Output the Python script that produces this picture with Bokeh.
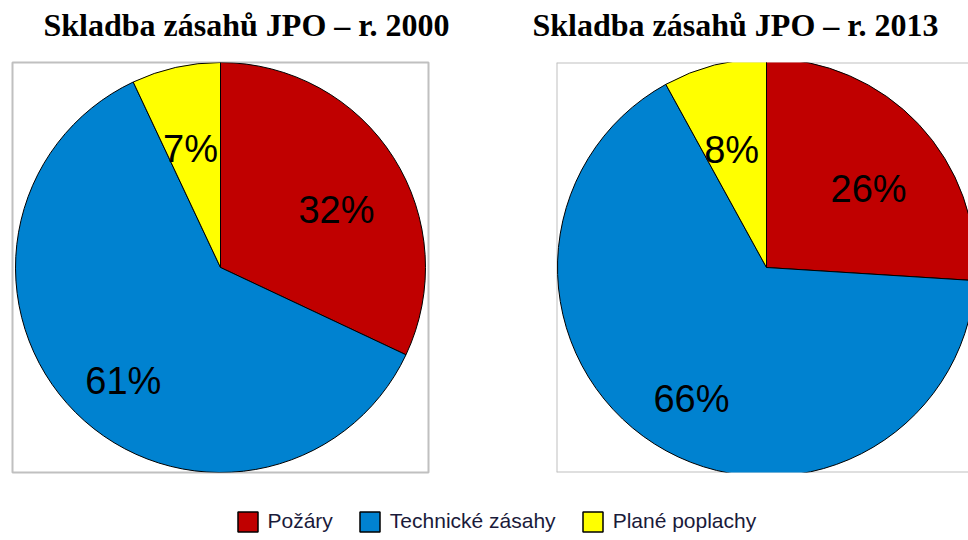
import math
from bokeh.plotting import figure
from bokeh.layouts import column, row
from bokeh.models import Span, Legend, LegendItem, ColumnDataSource
from bokeh.core.properties import value
from bokeh.embed import file_html
from bokeh.resources import INLINE

# ---- data ----
categories = ["Požáry", "Technické zásahy", "Plané poplachy"]
shares_2000 = [32, 61, 7]
shares_2013 = [26, 66, 8]
titles = ["Skladba zásahů JPO – r. 2000", "Skladba zásahů JPO – r. 2013"]

# ---- style ----
colors = ["#C00000", "#0082D0", "#FFFF00"]
LABEL_R = 0.67
BOX = "#C0C0C0"
NAN = float("nan")
TITLE_H = 45


def pie_source(shares):
    total = float(sum(shares))
    start = math.pi / 2
    d = dict(start=[], end=[], color=[], lx=[], ly=[], txt=[])
    for i, s in enumerate(shares):
        sweep = 2 * math.pi * s / total
        end = start - sweep
        mid = (start + end) / 2
        d["start"].append(start)
        d["end"].append(end)
        d["color"].append(colors[i])
        d["lx"].append(LABEL_R * math.cos(mid))
        d["ly"].append(LABEL_R * math.sin(mid))
        d["txt"].append(f"{s}%")
        start = end
    return ColumnDataSource(d)


def title_fig(title, width, bl, br, toff):
    t = figure(width=width, height=TITLE_H, x_range=(0, 1), y_range=(0, 1),
               output_backend="svg", toolbar_location=None,
               x_axis_type=None, y_axis_type=None,
               min_border_left=bl, min_border_right=br,
               min_border_top=TITLE_H - 1, min_border_bottom=0)
    t.grid.visible = False
    t.outline_line_color = None
    t.title.text = title
    t.title.text_font = "Liberation Serif"
    t.title.text_font_style = "bold"
    t.title.text_font_size = "32px"
    t.title.text_color = "black"
    t.title.align = "left"
    t.title.offset = toff
    t.title.standoff = 3
    return t


def pie_fig(shares, width, height, bl, br, bt, bb, xr, yr, outline=True):
    p = figure(width=width, height=height, x_range=xr, y_range=yr,
               output_backend="svg", toolbar_location=None,
               x_axis_type=None, y_axis_type=None,
               min_border_left=bl, min_border_right=br,
               min_border_top=bt, min_border_bottom=bb)
    p.grid.visible = False
    p.background_fill_color = "white"
    p.border_fill_color = "white"
    if outline:
        p.outline_line_color = BOX
        p.outline_line_width = 2
    else:
        p.outline_line_color = None
        for loc, dim in ((xr[0], "height"), (yr[0], "width"), (yr[1], "width")):
            p.add_layout(Span(location=loc, dimension=dim, line_color=BOX,
                              line_width=2, level="underlay"))
    src = pie_source(shares)
    p.wedge(x=0, y=0, radius=1.0, start_angle="start", end_angle="end",
            direction="clock", fill_color="color", line_color="black",
            line_width=1, source=src)
    p.text(x="lx", y="ly", text="txt", source=src, y_offset=-5,
           text_font=value("Liberation Sans"), text_font_size="38px",
           text_color="black", text_align="center", text_baseline="top")
    return p


t1 = title_fig(titles[0], 520, 12, 92, 31)
t2 = title_fig(titles[1], 448, 36, 0, -24)
p1 = pie_fig(shares_2000, 520, 498 - TITLE_H, 12, 92, 62 - TITLE_H, 26,
             (-416 / 2 / 205, 416 / 2 / 205), (-1.0, 1.0))
p2 = pie_fig(shares_2013, 448, 498 - TITLE_H, 36, 0, 57 - TITLE_H, 23,
             (-210 / 209, -210 / 209 + 412 / 209), (-1.0, 1.0), outline=False)

pl = figure(width=968, height=42, x_range=(0, 1), y_range=(0, 1),
            output_backend="svg", toolbar_location=None,
            x_axis_type=None, y_axis_type=None,
            min_border_left=0, min_border_right=0, min_border_top=0, min_border_bottom=0)
pl.grid.visible = False
pl.outline_line_color = None
items = []
for c, cat in zip(colors, categories):
    r = pl.quad(left=[NAN], right=[NAN], top=[NAN], bottom=[NAN], fill_color=c,
                line_color="black", line_width=1.5)
    items.append(LegendItem(label=cat, renderers=[r]))
leg = Legend(items=items, orientation="horizontal", location=(234.5, 6.5),
             border_line_color=None, background_fill_alpha=0,
             glyph_width=25, glyph_height=25, label_standoff=8, spacing=24,
             padding=0, margin=0, label_text_font="Liberation Sans",
             label_text_font_size="21px", label_text_color="#1a1a3a")
pl.add_layout(leg)

layout = column(row(t1, t2), row(p1, p2), pl)
open("out.html", "w").write(file_html(layout, INLINE))
